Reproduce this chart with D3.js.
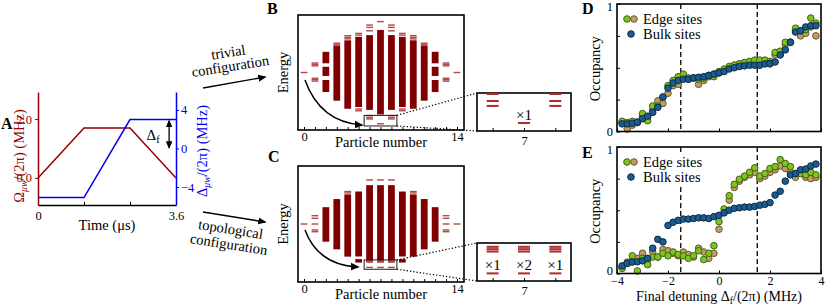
<!DOCTYPE html>
<html>
<head>
<meta charset="utf-8">
<script src="https://cdn.jsdelivr.net/npm/d3@7"></script>
<style>
  body { margin: 0; background: #fff; }
  svg { display: block; }
  svg text { font-family: "Liberation Serif", "Times New Roman", "DejaVu Serif", serif; }
</style>
</head>
<body>
<div id="root"></div>
<script>
// ---- A: microwave ramp ----
const rampTime = [0, 1.2, 2.4, 3.6];
const rabiFreq = [0, 1.7, 1.7, 0];          // Omega_mw/(2pi), MHz
const mwDetuning = [-5.1, -5.1, 3, 3];      // Delta_mw/(2pi), MHz
const timeTicks = [0, 1.2, 2.4, 3.6];
const timeTickLabels = ["0", "", "", "3.6"];
const rabiTicks = [0, 2];
const detuningTicks = [-4, 0, 4];

// ---- B, C: spectra vs particle number (energy in arb. units) ----
const particleNumbers = [0, 1, 2, 3, 4, 5, 6, 7, 8, 9, 10, 11, 12, 13, 14];
const trivialBands = [
  [], [],
  [[1.6, 3.6], [-0.6, 1.0], [-3.4, -1.3]],
  [[-4.9, 4.7]], [[-6.3, 5.6]], [[-6.0, 6.2]], [[-6.5, 6.5]], [[-7.3, 7.4]],
  [[-6.5, 6.5]], [[-6.0, 6.2]], [[-6.3, 5.6]], [[-4.9, 4.7]],
  [[1.6, 3.6], [-0.6, 1.0], [-3.4, -1.3]],
  [], []
];
const trivialLevels = [
  [0],
  [1.65, 1.4, 1.15, -1.0, -1.25, -1.5],
  [],
  [5.1, 4.85],
  [6.4, 6.1, 5.85],
  [6.8, 6.5, -6.35, -6.65],
  [8.25, 7.85, 7.25, -7.5, -7.84, -8.08],
  [8.85, -8.91],
  [8.25, 7.85, 7.25, -7.5, -7.84, -8.08],
  [6.8, 6.5, -6.35, -6.65],
  [6.4, 6.1, 5.85],
  [5.1, 4.85],
  [],
  [1.65, 1.4, 1.15, -1.0, -1.25, -1.5],
  [0]
];
const topoBands = [
  [], [],
  [[-3.05, 2.9]], [[-4.37, 4.3]], [[-5.63, 5.1]], [[-5.6, 5.6], [-6.65, -6.05]],
  [[-6.2, 6.7]], [[-6.2, 6.7]], [[-6.2, 6.7]],
  [[-5.6, 5.6], [-6.65, -6.05]], [[-5.63, 5.1]], [[-4.37, 4.3]], [[-3.05, 2.9]],
  [], []
];
const topoLevels = [
  [0],
  [1.43, 0.98, 0, -1.03, -1.33],
  [], [], [5.6, 5.35], [],
  [7.6, -6.36, -6.46, -6.56, -7.48],
  [7.6, -6.36, -6.46, -6.56, -7.48],
  [7.6, -6.36, -6.46, -6.56, -7.48],
  [], [5.6, 5.35], [], [],
  [1.43, 0.98, 0, -1.03, -1.33],
  [0]
];
const insetNumbers = [6, 7, 8];
const trivialDegeneracy = ["", "×1", ""];
const topoDegeneracy = ["×1", "×2", "×1"];

// ---- D, E: occupancies vs final detuning ----
const finalDetuning = [-3.8, -3.6, -3.4, -3.2, -3.0, -2.8, -2.6, -2.4, -2.2, -2.0, -1.8, -1.6, -1.4,
  -1.2, -1.0, -0.8, -0.6, -0.4, -0.2, 0, 0.2, 0.4, 0.6, 0.8, 1.0, 1.2, 1.4, 1.6, 1.8, 2.0,
  2.2, 2.4, 2.6, 2.8, 3.0, 3.2, 3.4, 3.6, 3.8];
const detuningAxisTicks = [-4, -2, 0, 2, 4];
const occupancyTicks = [0, 0.25, 0.5, 0.75, 1];
const gapEdges = [-1.5, 1.5];
const edgeErr = 0.025;

const edgeGreenD = [0.08, 0.07, 0.08, 0.07, 0.14, 0.085, 0.20, 0.20, 0.27, 0.36, 0.40, 0.43, 0.45,
  0.42, 0.42, 0.41, 0.42, 0.44, 0.43, 0.47, 0.49, 0.51, 0.52, 0.53, 0.54, 0.55, 0.56, 0.56, 0.56, 0.55,
  0.62, 0.63, 0.70, 0.70, 0.81, 0.79, 0.80, 0.89, 0.85];
const edgeTanD = [0.07, 0.02, 0.05, 0.07, 0.12, 0.11, 0.17, 0.24, 0.22, 0.30, 0.36, 0.37, 0.42,
  0.41, 0.42, 0.37, 0.40, 0.43, 0.45, 0.46, 0.48, 0.50, 0.52, 0.53, 0.54, 0.54, 0.55, 0.55, 0.54, 0.53,
  0.60, 0.61, 0.68, 0.70, 0.79, 0.75, 0.77, 0.82, 0.75];
const bulkD = [0.06, 0.06, 0.065, 0.075, 0.10, 0.12, 0.15, 0.19, 0.27, 0.34, 0.38, 0.40, 0.41,
  0.41, 0.42, 0.425, 0.43, 0.44, 0.45, 0.46, 0.47, 0.49, 0.50, 0.51, 0.515, 0.52, 0.52, 0.52, 0.53, 0.535,
  0.545, 0.60, 0.64, 0.70, 0.78, 0.79, 0.82, 0.83, 0.83];

const edgeGreenE = [0.04, 0.08, 0.14, 0.02, 0.12, 0.07, 0.13, 0.13, 0.16, 0.14, 0.17, 0.15, 0.14,
  0.12, 0.14, 0.18, 0.11, 0.16, 0.22, 0.41, 0.51, 0.615, 0.705, 0.745, 0.77, 0.80, 0.835, 0.77, 0.79, 0.83,
  0.845, 0.90, 0.87, 0.845, 0.79, 0.79, 0.78, 0.80, 0.78];
const edgeTanE = [0.05, 0.09, 0.10, 0.12, 0.16, 0.11, 0.17, 0.13, 0.19, 0.18, 0.16, 0.14, 0.17,
  0.15, 0.13, 0.20, 0.17, 0.12, 0.16, 0.35, 0.48, 0.58, 0.68, 0.73, 0.76, 0.78, 0.80, 0.75, 0.77, 0.80,
  0.82, 0.85, 0.83, 0.80, 0.76, 0.80, 0.76, 0.75, 0.76];
const bulkE = [0.06, 0.08, 0.09, 0.093, 0.10, 0.12, 0.20, 0.27, 0.25, 0.38, 0.405, 0.42, 0.43,
  0.43, 0.435, 0.44, 0.44, 0.435, 0.45, 0.46, 0.48, 0.50, 0.515, 0.52, 0.525, 0.525, 0.53, 0.54, 0.547, 0.56,
  0.62, 0.65, 0.73, 0.78, 0.79, 0.82, 0.826, 0.85, 0.865];

const RED = "#990000";
const BLUE = "#0000f0";
const SPEC = "#800000";
const LEVEL = "#b34848";
const green = { fill: "#80c21e", stroke: "#3f6414" };
const tan = { fill: "#bba060", stroke: "#6b5630" };
const navy = { fill: "#1d5b8e", stroke: "#0b2a45" };

const svg = d3.select("#root").append("svg")
  .attr("width", 830).attr("height", 308);

const defs = svg.append("defs");
defs.append("marker")
  .attr("id", "head")
  .attr("viewBox", "0 0 10 10")
  .attr("refX", 8).attr("refY", 5)
  .attr("markerWidth", 6).attr("markerHeight", 6)
  .attr("orient", "auto-start-reverse")
  .append("path").attr("d", "M0,0.8 L10,5 L0,9.2 Z").attr("fill", "#000");

function styleAxis(g, color, width) {
  g.attr("font-family", null);
  g.select(".domain").attr("stroke", color).attr("stroke-width", width);
  g.selectAll(".tick line").attr("stroke", color);
  g.selectAll(".tick text").attr("fill", color).attr("font-size", 12.5);
}

function panelLetter(txt, x, y) {
  svg.append("text").attr("x", x).attr("y", y)
    .attr("font-size", 16).attr("font-weight", "bold").text(txt);
}

// label with one subscript: [before, sub, after]
function subText(g, parts, subItalic) {
  g.append("tspan").text(parts[0]);
  g.append("tspan").attr("font-size", "0.68em").attr("dy", 3)
    .attr("font-style", subItalic ? "italic" : null).text(parts[1]);
  g.append("tspan").attr("dy", -3).text(parts[2]);
  return g;
}

// ================= A =================
{
  const x = d3.scaleLinear().domain([0, 3.6]).range([38, 176]);
  const yO = d3.scaleLinear().domain([-0.92, 2.92]).range([205, 92]);
  const yD = d3.scaleLinear().domain([-5.87, 5.87]).range([205, 92]);
  const g = svg.append("g");

  g.append("g").attr("transform", "translate(0,205)")
    .call(d3.axisBottom(x).tickValues(timeTicks).tickSize(-3).tickSizeOuter(0).tickPadding(6)
      .tickFormat((d, i) => timeTickLabels[i]))
    .call(styleAxis, "#000", 1.5);
  g.append("g").attr("transform", "translate(38,0)")
    .call(d3.axisLeft(yO).tickValues(rabiTicks).tickSize(3).tickSizeOuter(0).tickPadding(3))
    .call(styleAxis, RED, 1.5);
  g.append("g").attr("transform", "translate(176,0)")
    .call(d3.axisRight(yD).tickValues(detuningTicks).tickSize(3).tickSizeOuter(0).tickPadding(2))
    .call(styleAxis, BLUE, 1.5);

  const lineO = d3.line().x((d, i) => x(rampTime[i])).y(d => yO(d));
  const lineD = d3.line().x((d, i) => x(rampTime[i])).y(d => yD(d));
  g.append("path").attr("d", lineO(rabiFreq)).attr("fill", "none").attr("stroke", RED).attr("stroke-width", 1.5);
  g.append("path").attr("d", lineD(mwDetuning)).attr("fill", "none").attr("stroke", BLUE).attr("stroke-width", 1.5);

  // final detuning marker
  g.append("line")
    .attr("x1", x(3.42)).attr("x2", x(3.42))
    .attr("y1", yD(mwDetuning[3] - 0.15)).attr("y2", yD(0.1))
    .attr("stroke", "#000").attr("stroke-width", 1.3)
    .attr("marker-start", "url(#head)").attr("marker-end", "url(#head)");
  subText(g.append("text").attr("x", x(3.0)).attr("y", yD(0.9)).attr("text-anchor", "middle")
    .attr("font-size", 15), ["Δ", "f", ""], false);

  subText(g.append("text").attr("transform", "translate(24,156) rotate(-90)")
    .attr("text-anchor", "middle").attr("font-size", 14.5).attr("fill", RED),
    ["Ω", "μw", "/(2π) (MHz)"], true);
  subText(g.append("text").attr("transform", "translate(207,151) rotate(-90)")
    .attr("text-anchor", "middle").attr("font-size", 14.5).attr("fill", BLUE),
    ["Δ", "μw", "/(2π) (MHz)"], true);

  g.append("text").attr("x", x(1.8)).attr("y", 230).attr("text-anchor", "middle")
    .attr("font-size", 14.5).text("Time (μs)");
  panelLetter("A", 1, 129);
}

// arrows from A to B / C
{
  const g = svg.append("g").attr("font-size", 14.5);
  g.append("line").attr("x1", 203).attr("y1", 88).attr("x2", 265).attr("y2", 77)
    .attr("stroke", "#000").attr("stroke-width", 1.4).attr("marker-end", "url(#head)");
  g.append("line").attr("x1", 203).attr("y1", 212).attr("x2", 265).attr("y2", 222)
    .attr("stroke", "#000").attr("stroke-width", 1.4).attr("marker-end", "url(#head)");
  const lab = [["trivial", 229, 57, -9], ["configuration", 231, 71, -9],
    ["topological", 230, 234, 9], ["configuration", 228, 249, 9]];
  lab.forEach(([t, cx, cy, r]) => {
    g.append("text").attr("transform", `translate(${cx},${cy}) rotate(${r})`)
      .attr("text-anchor", "middle").text(t);
  });
}

// ================= B, C =================
function spectrum(cfg) {
  const x = d3.scaleLinear().domain([-0.55, 14.64]).range([298, 464]);
  const y = d3.scaleLinear().domain([-10, 10]).range([cfg.bottom, cfg.top]);
  const g = svg.append("g");
  const hw = 0.31;

  const bandRows = [];
  const levelRows = [];
  particleNumbers.forEach((n, i) => {
    cfg.bands[i].forEach(b => bandRows.push({ n, lo: b[0], hi: b[1] }));
    cfg.levels[i].forEach(e => levelRows.push({ n, e }));
  });

  g.selectAll("rect.band").data(bandRows).join("rect").attr("class", "band")
    .attr("x", d => x(d.n - hw)).attr("width", x(hw) - x(-hw))
    .attr("y", d => y(d.hi)).attr("height", d => y(d.lo) - y(d.hi))
    .attr("fill", SPEC);
  g.selectAll("rect.level").data(levelRows).join("rect").attr("class", "level")
    .attr("x", d => x(d.n - hw)).attr("width", x(hw) - x(-hw))
    .attr("y", d => y(d.e) - 0.7).attr("height", 1.4)
    .attr("fill", LEVEL);

  g.append("rect").attr("x", 298).attr("y", cfg.top).attr("width", 166).attr("height", cfg.bottom - cfg.top)
    .attr("fill", "none").attr("stroke", "#000").attr("stroke-width", 1.6);
  g.append("g").attr("transform", `translate(0,${cfg.bottom})`)
    .call(d3.axisBottom(x).tickValues(particleNumbers).tickSize(-3).tickSizeOuter(0).tickPadding(2)
      .tickFormat(d => (d === 0 || d === 14) ? d : ""))
    .call(styleAxis, "#000", 0)
    .call(a => a.select(".domain").remove());

  g.append("text").attr("transform", `translate(288,${(cfg.top + cfg.bottom) / 2}) rotate(-90)`)
    .attr("text-anchor", "middle").attr("font-size", 14.5).text("Energy");
  g.append("text").attr("x", 381).attr("y", cfg.bottom + 17).attr("text-anchor", "middle")
    .attr("font-size", 14.5).text("Particle number");

  // zoom window
  const zx0 = x(5.5), zx1 = x(8.5), zyT = y(cfg.zoomE[1]), zyB = y(cfg.zoomE[0]);
  g.append("rect").attr("x", zx0).attr("y", zyT).attr("width", zx1 - zx0).attr("height", zyB - zyT)
    .attr("fill", "none").attr("stroke", "#000").attr("stroke-width", 0.9);

  // curved arrow
  const p = d3.path();
  p.moveTo(x(cfg.arrow[0][0]), y(cfg.arrow[0][1]));
  p.quadraticCurveTo(x(cfg.arrow[1][0]), y(cfg.arrow[1][1]), x(cfg.arrow[2][0]), y(cfg.arrow[2][1]));
  g.append("path").attr("d", p.toString()).attr("fill", "none").attr("stroke", "#000")
    .attr("stroke-width", 1.5).attr("marker-end", "url(#head)");

  // inset
  const ix = d3.scaleLinear().domain([5.5, 8.5]).range([477, 571]);
  const iy = d3.scaleLinear().domain(cfg.zoomE).range([cfg.insetBottom, cfg.insetTop]);
  [[zyT, cfg.insetTop], [zyB, cfg.insetBottom]].forEach(([a, b]) => {
    g.append("line").attr("x1", zx1).attr("y1", a).attr("x2", 477).attr("y2", b)
      .attr("stroke", "#000").attr("stroke-width", 1.2).attr("stroke-dasharray", "1.3,2");
  });
  g.append("rect").attr("x", 477).attr("y", cfg.insetTop).attr("width", 94)
    .attr("height", cfg.insetBottom - cfg.insetTop)
    .attr("fill", "#fff").attr("stroke", "#000").attr("stroke-width", 1.6);
  const insetRows = levelRows.filter(d => insetNumbers.includes(d.n) &&
    d.e <= cfg.zoomE[1] && d.e >= cfg.zoomE[0]);
  g.selectAll("rect.ilevel").data(insetRows).join("rect").attr("class", "ilevel")
    .attr("x", d => ix(d.n) - 6).attr("width", 12)
    .attr("y", d => iy(d.e) - 1).attr("height", 2)
    .attr("fill", "#b02a2a");
  insetNumbers.forEach((n, i) => {
    const lows = insetRows.filter(d => d.n === n).map(d => d.e);
    if (!cfg.degeneracy[i] || !lows.length) return;
    g.append("text").attr("x", ix(n)).attr("y", iy(d3.min(lows)) - 3)
      .attr("text-anchor", "middle").attr("font-size", 15).text(cfg.degeneracy[i]);
  });
  g.append("g").attr("transform", `translate(0,${cfg.insetBottom})`)
    .call(d3.axisBottom(ix).tickValues(insetNumbers).tickSize(-3).tickSizeOuter(0).tickPadding(5)
      .tickFormat(d => d === 7 ? d : ""))
    .call(styleAxis, "#000", 0)
    .call(a => a.select(".domain").remove());
}

spectrum({
  top: 15, bottom: 130, bands: trivialBands, levels: trivialLevels,
  zoomE: [-9.3, -7.45], insetTop: 93, insetBottom: 131, degeneracy: trivialDegeneracy,
  arrow: [[0.09, -1.3], [1.46, -8.6], [5.3, -9.13]]
});
spectrum({
  top: 166, bottom: 282, bands: topoBands, levels: topoLevels,
  zoomE: [-7.8, -6.2], insetTop: 243, insetBottom: 281, degeneracy: topoDegeneracy,
  arrow: [[0.09, -1.03], [1.28, -7.07], [4.94, -7.41]]
});
panelLetter("B", 267, 14);
panelLetter("C", 268, 162);

// ================= D, E =================
function occupancy(cfg) {
  const x = d3.scaleLinear().domain([-4, 4]).range([617, 821]);
  const y = d3.scaleLinear().domain([0, 1]).range([cfg.bottom, cfg.top]);
  const g = svg.append("g");

  gapEdges.forEach(v => {
    g.append("line").attr("x1", x(v)).attr("x2", x(v)).attr("y1", cfg.top).attr("y2", cfg.bottom)
      .attr("stroke", "#000").attr("stroke-width", 1.3).attr("stroke-dasharray", "5,3");
  });

  const series = [
    { vals: cfg.tan, c: tan, err: true },
    { vals: cfg.green, c: green, err: true },
    { vals: cfg.bulk, c: navy, err: false }
  ];
  series.forEach(s => {
    const pts = s.vals.map((v, i) => ({ d: finalDetuning[i], v }));
    if (s.err) {
      g.append("g").selectAll("line").data(pts).join("line")
        .attr("x1", p => x(p.d)).attr("x2", p => x(p.d))
        .attr("y1", p => y(p.v - edgeErr)).attr("y2", p => y(p.v + edgeErr))
        .attr("stroke", s.c.stroke).attr("stroke-width", 1);
    }
    g.append("g").selectAll("circle").data(pts).join("circle")
      .attr("cx", p => x(p.d)).attr("cy", p => y(p.v)).attr("r", 3.3)
      .attr("fill", s.c.fill).attr("stroke", s.c.stroke).attr("stroke-width", 1);
  });

  // legend
  const ly1 = cfg.top + 15, ly2 = cfg.top + 30;
  g.append("rect").attr("x", 620).attr("y", cfg.top + 6).attr("width", 86).attr("height", 32).attr("fill", "#fff");
  [[627, ly1, green], [634, ly1, tan], [631, ly2, navy]].forEach(([cx, cy, c]) => {
    g.append("circle").attr("cx", cx).attr("cy", cy).attr("r", 3.3)
      .attr("fill", c.fill).attr("stroke", c.stroke).attr("stroke-width", 1);
  });
  g.append("text").attr("x", 643).attr("y", ly1 + 4.5).attr("font-size", 14.5).text("Edge sites");
  g.append("text").attr("x", 643).attr("y", ly2 + 4.5).attr("font-size", 14.5).text("Bulk sites");

  g.append("rect").attr("x", 617).attr("y", cfg.top).attr("width", 204).attr("height", cfg.bottom - cfg.top)
    .attr("fill", "none").attr("stroke", "#000").attr("stroke-width", 1.6);
  g.append("g").attr("transform", "translate(617,0)")
    .call(d3.axisLeft(y).tickValues(occupancyTicks).tickSize(-3).tickSizeOuter(0).tickPadding(4)
      .tickFormat(d => (d === 0 || d === 1) ? d : ""))
    .call(styleAxis, "#000", 0)
    .call(a => a.select(".domain").remove())
    .call(a => a.selectAll(".tick text").filter(d => d === 1).attr("dy", "0.5em"))
    .call(a => a.selectAll(".tick text").filter(d => d === 0).attr("dy", cfg.xLabels ? "0.1em" : "0.32em"));
  g.append("g").attr("transform", `translate(0,${cfg.bottom})`)
    .call(d3.axisBottom(x).tickValues(detuningAxisTicks).tickSize(-3).tickSizeOuter(0).tickPadding(3)
      .tickFormat(cfg.xLabels ? d3.format("") : () => ""))
    .call(styleAxis, "#000", 0)
    .call(a => a.select(".domain").remove())
    .call(a => a.selectAll(".tick text").attr("font-size", 12));

  g.append("text").attr("transform", `translate(600,${(cfg.top + cfg.bottom) / 2 + 1}) rotate(-90)`)
    .attr("text-anchor", "middle").attr("font-size", 14.5).text("Occupancy");
  if (cfg.xLabels) {
    subText(g.append("text").attr("x", 719).attr("y", 301).attr("text-anchor", "middle")
      .attr("font-size", 14), ["Final detuning Δ", "f", "/(2π) (MHz)"], false);
  }
}

occupancy({ top: 4, bottom: 131.5, green: edgeGreenD, tan: edgeTanD, bulk: bulkD, xLabels: false });
occupancy({ top: 147, bottom: 273.5, green: edgeGreenE, tan: edgeTanE, bulk: bulkE, xLabels: true });
panelLetter("D", 582, 14);
panelLetter("E", 582, 158);
</script>
</body>
</html>
